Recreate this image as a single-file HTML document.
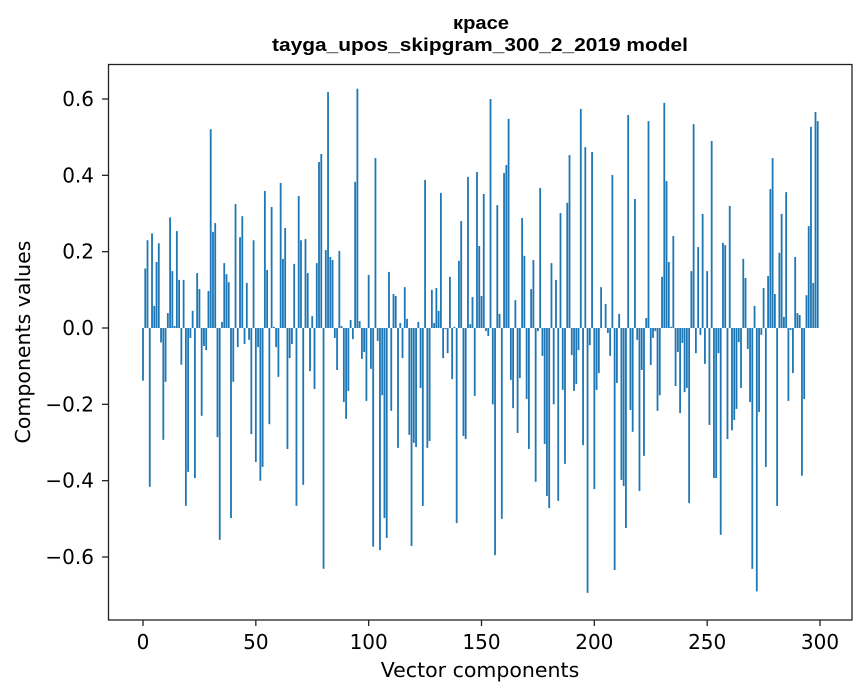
<!DOCTYPE html>
<html><head><meta charset="utf-8"><style>
html,body{margin:0;padding:0;background:#fff;}
svg{display:block;font-family:"DejaVu Sans","Liberation Sans",sans-serif;}
</style></head><body>
<svg id="chart" width="867" height="696">
<text x="481" y="29" text-anchor="middle" font-size="18" font-weight="bold" font-family="Liberation Sans, sans-serif" textLength="56" lengthAdjust="spacingAndGlyphs">красе</text>
<text x="480" y="51" text-anchor="middle" font-size="18" font-weight="bold" font-family="Liberation Sans, sans-serif" textLength="416" lengthAdjust="spacingAndGlyphs">tayga_upos_skipgram_300_2_2019 model</text>
<g id="bars"></g>
<g id="yticks"></g>
<g id="xticks"></g>
<rect x="108.5" y="64.5" width="743.5" height="555.5" fill="none" stroke="#222" stroke-width="1.3"/>
<text x="480" y="677" text-anchor="middle" font-size="20.5">Vector components</text>
<text x="30" y="342" text-anchor="middle" font-size="20.5" transform="rotate(-90 30 342)">Components values</text>
</svg>
<script>
const values = [
-0.138,0.156,0.23,-0.416,0.248,0.058,0.173,0.222,-0.038,-0.293,
-0.141,0.039,0.29,0.149,0.005,0.254,0.126,-0.096,0.126,-0.466,
-0.377,-0.026,0.045,-0.393,0.144,0.102,-0.23,-0.047,-0.058,0.097,
0.521,0.252,0.275,-0.286,-0.555,0.016,0.17,0.141,0.12,-0.498,
-0.141,0.325,-0.05,0.238,0.293,-0.042,0.118,-0.031,-0.278,0.23,
-0.351,-0.05,-0.4,-0.364,0.359,0.152,-0.252,0.317,0.003,-0.05,
-0.128,0.38,0.181,0.262,-0.317,-0.079,-0.042,0.168,-0.466,0.346,
0.23,-0.411,0.233,0.144,-0.113,0.031,-0.16,0.17,0.435,0.456,
-0.631,0.204,0.618,0.186,0.178,-0.026,-0.11,0.202,0.005,-0.194,
-0.238,-0.165,0.021,-0.029,0.383,0.627,0.018,-0.081,-0.063,-0.191,
0.139,-0.107,-0.573,0.445,-0.034,-0.582,-0.176,-0.498,-0.55,0.147,
-0.217,0.089,0.084,-0.314,0.013,-0.079,0.107,0.024,-0.28,-0.571,
-0.301,-0.312,0.016,-0.157,-0.466,0.388,-0.314,-0.296,0.1,0.013,
0.105,0.045,0.354,-0.079,-0.003,-0.066,0.134,-0.134,0.003,-0.511,
0.176,0.28,-0.283,-0.291,0.396,0.01,0.081,-0.178,0.409,0.215,
0.084,0.351,-0.008,-0.021,0.6,-0.2,-0.595,0.322,0.037,-0.5,
0.406,0.427,0.548,-0.136,-0.21,0.073,-0.275,-0.131,0.288,0.189,
-0.186,-0.317,0.102,0.178,-0.403,-0.008,0.367,-0.073,-0.304,-0.44,
-0.472,0.17,-0.2,0.126,-0.453,0.301,-0.162,-0.356,0.328,0.453,
-0.071,-0.165,-0.147,-0.058,0.574,-0.307,0.474,-0.694,-0.045,0.461,
-0.422,-0.162,-0.118,0.107,0.0,0.063,-0.013,-0.073,0.401,-0.634,
-0.144,0.037,-0.398,-0.414,-0.524,0.558,-0.215,-0.272,0.338,-0.031,
-0.427,-0.11,-0.335,0.026,0.542,-0.097,-0.026,-0.008,-0.217,-0.176,
0.134,0.59,0.385,0.173,0.003,0.241,-0.152,-0.063,-0.223,-0.039,
-0.168,-0.157,-0.459,0.149,0.534,-0.066,0.212,-0.018,0.299,-0.094,
0.149,-0.254,0.49,-0.393,-0.393,-0.066,-0.542,0.223,0.217,-0.291,
0.32,-0.268,-0.241,-0.212,-0.037,-0.157,0.181,0.131,-0.055,-0.194,
-0.631,0.058,-0.69,-0.22,-0.018,0.105,-0.364,0.136,0.364,0.445,
0.089,-0.466,0.197,0.299,0.029,0.356,-0.191,-0.005,-0.118,0.186,
0.039,0.034,-0.387,-0.186,0.086,0.267,0.527,0.118,0.566,0.542
];
const yTickValues = [-0.6,-0.4,-0.2,0.0,0.2,0.4,0.6];
const yTickLabels = ["\u22120.6","\u22120.4","\u22120.2","0.0","0.2","0.4","0.6"];
const xTickValues = [0,50,100,150,200,250,300];
const xTickLabels = ["0","50","100","150","200","250","300"];

const NS = "http://www.w3.org/2000/svg";
function xScale(i){ return 143 + i * (677/300); }
function yScale(v){ return 328 - v * (229/0.6); }
const barW = 0.8 * 677/300;

const bars = document.getElementById('bars');
values.forEach((v,i)=>{
  const r = document.createElementNS(NS,'rect');
  const y0 = yScale(0), y1 = yScale(v);
  r.setAttribute('x', xScale(i) - barW/2);
  r.setAttribute('y', Math.min(y0,y1));
  r.setAttribute('width', barW);
  r.setAttribute('height', Math.max(Math.abs(y1-y0),0.01));
  r.setAttribute('fill', '#1f77b4');
  
  
  bars.appendChild(r);
});

const yt = document.getElementById('yticks');
yTickValues.forEach((v,k)=>{
  const y = yScale(v);
  const l = document.createElementNS(NS,'line');
  l.setAttribute('x1',102); l.setAttribute('x2',108);
  l.setAttribute('y1',y); l.setAttribute('y2',y);
  l.setAttribute('stroke','#222'); l.setAttribute('stroke-width','1.3');
  
  
  yt.appendChild(l);
  const t = document.createElementNS(NS,'text');
  t.setAttribute('x',94); t.setAttribute('y',y+7);
  t.setAttribute('text-anchor','end'); t.setAttribute('font-size','20');
  t.textContent = yTickLabels[k];
  
  
  yt.appendChild(t);
});

const xt = document.getElementById('xticks');
xTickValues.forEach((v,k)=>{
  const x = xScale(v);
  const l = document.createElementNS(NS,'line');
  l.setAttribute('x1',x); l.setAttribute('x2',x);
  l.setAttribute('y1',620); l.setAttribute('y2',626);
  l.setAttribute('stroke','#222'); l.setAttribute('stroke-width','1.3');
  
  
  xt.appendChild(l);
  const t = document.createElementNS(NS,'text');
  t.setAttribute('x',x); t.setAttribute('y',649);
  t.setAttribute('text-anchor','middle'); t.setAttribute('font-size','20');
  t.textContent = xTickLabels[k];
  
  
  xt.appendChild(t);
});
</script>
</body></html>
